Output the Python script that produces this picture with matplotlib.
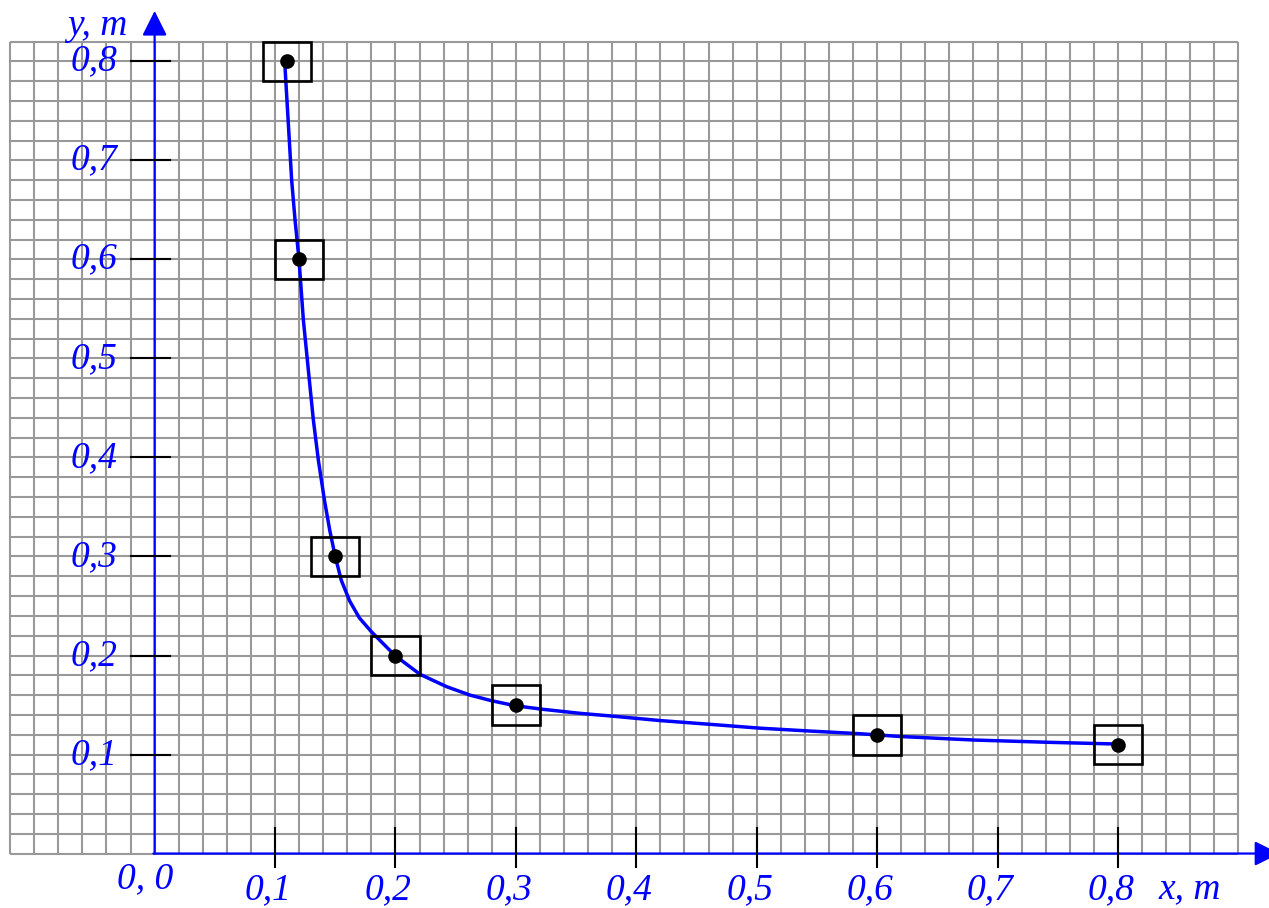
import numpy as np
import matplotlib.pyplot as plt
from matplotlib.patches import Rectangle

# measured points
x_pts = [0.11, 0.12, 0.15, 0.20, 0.30, 0.60, 0.80]
y_pts = [0.80, 0.60, 0.30, 0.20, 0.15, 0.12, 0.11]

# smooth curve
curve_x = [0.108, 0.1138, 0.1166, 0.1199, 0.1235, 0.1285, 0.1318, 0.136, 0.141,
           0.1455, 0.1498, 0.155, 0.162, 0.170, 0.180, 0.1996, 0.2204, 0.2425,
           0.2619, 0.2799, 0.2993, 0.3214, 0.3532, 0.3781, 0.4197, 0.4612, 0.5027,
           0.5443, 0.5858, 0.619, 0.6812, 0.7435, 0.799]
curve_y = [0.800, 0.680, 0.640, 0.600, 0.539, 0.478, 0.438, 0.397, 0.357,
           0.326, 0.301, 0.276, 0.255, 0.238, 0.224, 0.200, 0.181, 0.1685,
           0.160, 0.1543, 0.1493, 0.1458, 0.1416, 0.1390, 0.1343, 0.1305, 0.1266,
           0.1237, 0.121, 0.1182, 0.1146, 0.1123, 0.1106]

x_ticks = [0.1, 0.2, 0.3, 0.4, 0.5, 0.6, 0.7, 0.8]
x_labels = ["0,1", "0,2", "0,3", "0,4", "0,5", "0,6", "0,7", "0,8"]
y_ticks = [0.1, 0.2, 0.3, 0.4, 0.5, 0.6, 0.7, 0.8]
y_labels = ["0,1", "0,2", "0,3", "0,4", "0,5", "0,6", "0,7", "0,8"]

blue = "#0000ff"
font = dict(family="Liberation Serif", style="italic", color=blue, fontsize=27)

fig = plt.figure(figsize=(12.69, 9.08), dpi=100)
ax = fig.add_axes([0, 0, 1, 1])
ax.set_xlim(-0.1284, 0.9254)
ax.set_ylim(-0.055, 0.862)
ax.axis("off")

# millimetre-style grid
gx = np.arange(-0.12, 0.9001, 0.02)
gy = np.arange(0.0, 0.8201, 0.02)
ax.vlines(gx, 0, 0.82, color="#999999", lw=1.5, zorder=1)
ax.hlines(gy, -0.12, 0.90, color="#999999", lw=1.5, zorder=1)

# axes with arrows
arrow = dict(arrowstyle="-|>", color=blue, lw=1.6, mutation_scale=38, shrinkA=0, shrinkB=0)
ax.annotate("", xy=(0, 0.851), xytext=(0, 0), arrowprops=arrow, annotation_clip=False, zorder=3)
ax.annotate("", xy=(0.934, 0), xytext=(-0.001, 0), arrowprops=arrow, annotation_clip=False, zorder=3)

# ticks
for t, lab in zip(x_ticks, x_labels):
    ax.plot([t, t], [-0.0136, 0.026], color="black", lw=1.5, zorder=3)
    ax.text(t - 0.006, -0.019, lab, ha="center", va="top", **font)
for t, lab in zip(y_ticks, y_labels):
    ax.plot([-0.0196, 0.0128], [t, t], color="black", lw=1.5, zorder=3)
    ax.text(-0.031, t, lab, ha="right", va="center", **font)

ax.text(-0.008, -0.008, "0, 0", ha="center", va="top", **font)
ax.text(0.8332, -0.045, "x, m", ha="left", va="baseline", **font)
ax.text(-0.0727, 0.8268, "y, m", ha="left", va="baseline", **font)

# curve
ax.plot(curve_x, curve_y, color=blue, lw=2.5, solid_joinstyle="round",
        solid_capstyle="round", zorder=4)

# squares and dots
for x, y in zip(x_pts, y_pts):
    ax.add_patch(Rectangle((x - 0.02, y - 0.02), 0.04, 0.04, fill=False,
                           edgecolor="black", lw=1.9, zorder=5))
ax.plot(x_pts, y_pts, "o", color="black", markersize=9.5, zorder=6)

fig.savefig("out.png", dpi=100)
